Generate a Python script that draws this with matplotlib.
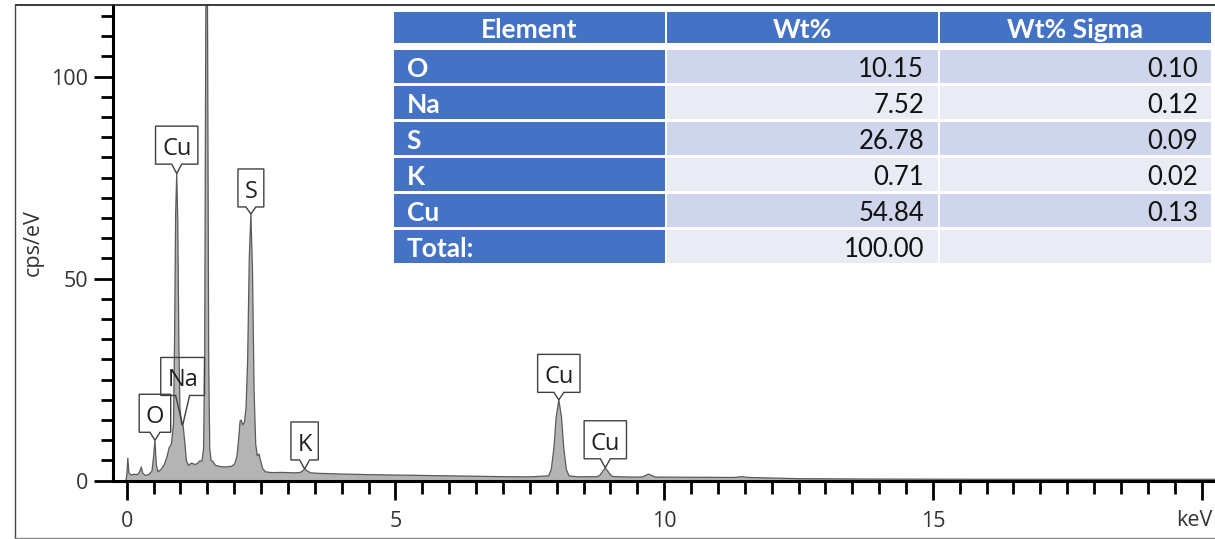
import matplotlib
matplotlib.use("Agg")
import matplotlib.pyplot as plt
from matplotlib.patches import Rectangle, Polygon
import numpy as np

# ---------------- data ----------------
# EDS spectrum, energy (keV) vs counts (cps/eV)
energy = [-0.02, 0.00, 0.02, 0.04, 0.08, 0.14, 0.20, 0.24, 0.27, 0.30, 0.35, 0.42,
          0.47, 0.50, 0.525, 0.55, 0.58, 0.64, 0.70, 0.75, 0.79, 0.83, 0.87, 0.89,
          0.91, 0.93, 0.95, 0.97, 0.99, 1.02, 1.05, 1.08, 1.11, 1.15, 1.21, 1.26,
          1.31, 1.36, 1.40, 1.43, 1.45, 1.47, 1.487, 1.505, 1.525, 1.545, 1.57, 1.60,
          1.65, 1.74, 1.85, 1.96, 2.01, 2.05, 2.08, 2.11, 2.13, 2.16, 2.19, 2.22,
          2.25, 2.28, 2.31, 2.34, 2.37, 2.40, 2.43, 2.46, 2.49, 2.53, 2.58, 2.70,
          2.90, 3.10, 3.22, 3.27, 3.31, 3.36, 3.42, 3.60, 4.00, 4.50, 5.00, 5.50,
          6.00, 6.50, 7.00, 7.50, 7.85, 7.90, 7.95, 7.99, 8.04, 8.09, 8.13, 8.18,
          8.23, 8.40, 8.75, 8.80, 8.85, 8.905, 8.96, 9.01, 9.06, 9.40, 9.58, 9.64,
          9.71, 9.78, 9.84, 10.5, 11.30, 11.44, 11.58, 12.5, 14.0, 16.0, 18.0, 20.25]
cps = [0.0, 1.0, 5.6, 2.0, 1.4, 1.6, 1.5, 2.2, 3.4, 1.8, 1.3, 1.6,
       2.4, 6.0, 10.0, 4.0, 2.2, 2.8, 4.0, 6.0, 8.2, 9.0, 14.0, 35.0,
       66.0, 76.0, 64.0, 34.0, 18.0, 14.0, 13.5, 9.5, 5.0, 3.8, 4.4, 4.0,
       4.2, 4.9, 4.8, 8.0, 30.0, 110.0, 160.0, 110.0, 30.0, 8.0, 5.0, 4.8,
       3.8, 3.5, 3.4, 3.6, 4.2, 6.0, 10.0, 14.8, 15.0, 13.8, 14.5, 18.0,
       30.0, 55.0, 66.0, 52.0, 22.0, 9.0, 6.2, 6.6, 5.0, 3.0, 2.2, 2.0,
       2.05, 1.95, 2.0, 2.4, 2.9, 2.4, 1.95, 1.8, 1.65, 1.5, 1.4, 1.3,
       1.2, 1.1, 1.0, 0.95, 1.2, 2.8, 8.3, 15.7, 20.0, 15.7, 8.3, 2.8,
       1.2, 0.95, 1.0, 1.3, 2.2, 3.2, 2.2, 1.3, 1.0, 0.9, 0.92, 1.2,
       1.65, 1.2, 0.9, 0.85, 0.8, 1.0, 0.8, 0.5, 0.4, 0.35, 0.35, 0.35]

# identified lines
peak_labels = ["O", "Cu", "Na", "S", "K", "Cu", "Cu"]
peak_energy = [0.525, 0.93, 1.04, 2.31, 3.31, 8.04, 8.905]

# quantification table
table_header = ["Element", "Wt%", "Wt% Sigma"]
elements = ["O", "Na", "S", "K", "Cu"]
wt_pct = [10.15, 7.52, 26.78, 0.71, 54.84]
wt_sigma = [0.10, 0.12, 0.09, 0.02, 0.13]

x_major = [0, 5, 10, 15, 20]
x_major_labels = ["0", "5", "10", "15", ""]
y_major = [0, 50, 100]

# ---------------- style ----------------
plt.rcParams["font.family"] = ["Open Sans", "DejaVu Sans"]
FILL = "#b4b4b4"
EDGE = "#5a5a5a"
TXT = "#333333"
BLUE = "#4472C4"
ROW_A = "#CFD5EA"
ROW_B = "#E9EBF5"
TABLE_FONT = ["Lato", "Open Sans", "DejaVu Sans"]

W, H = 1215, 539
fig = plt.figure(figsize=(W / 100, H / 100), dpi=100)
fig.patch.set_facecolor("white")

# spectrum axes
ax = fig.add_axes([113.3 / W, (H - 480.7) / H, (W - 113.3) / W, (480.7 - 5) / H])
ax.fill_between(energy, cps, 0, color=FILL, linewidth=0, zorder=2)
ax.plot(energy, cps, color=EDGE, lw=0.9, zorder=3)
ax.set_xlim(-0.25, 20.25)
ax.set_ylim(0, 117.7)
for s in ["top", "right"]:
    ax.spines[s].set_visible(False)
for s in ["left", "bottom"]:
    ax.spines[s].set_linewidth(2.2)
    ax.spines[s].set_color("black")
    ax.spines[s].set_zorder(4)

ax.set_xticks(x_major)
ax.set_xticklabels(x_major_labels)
ax.set_xticks(np.arange(0, 20.01, 0.5), minor=True)
ax.set_yticks(y_major)
ax.set_yticks(np.arange(0, 116, 5), minor=True)
ax.tick_params(which="major", length=14, width=2, direction="out",
               color="black", labelsize=15.5, labelcolor=TXT)
ax.tick_params(which="minor", length=9, width=2, direction="out", color="black")
ax.tick_params(axis="x", which="major", pad=8)
ax.tick_params(axis="y", which="major", pad=4)

fig.text(33.5 / W, (H - 242.5) / H, "cps/eV", rotation=90, ha="center",
         va="center", fontsize=15.5, color=TXT)
fig.text(1213 / W, (H - 520.5) / H, "keV", ha="right", va="center",
         fontsize=15.5, color=TXT)

# overlay in pixel coordinates (origin at top-left) for frame, markers, table
ov = fig.add_axes([0, 0, 1, 1])
ov.set_xlim(0, W)
ov.set_ylim(H, 0)
ov.axis("off")
ov.set_zorder(5)
ov.patch.set_visible(False)

# outer frame
ov.plot([15, W], [5, 5], color="#2b2b2b", lw=1.3, solid_capstyle="butt")
ov.plot([15, 15], [5, 538], color="#444444", lw=1.0)
ov.plot([15, W], [538, 538], color="#888888", lw=1.0)

# peak markers: box with a notch pointing down to the spectrum
renderer = fig.canvas.get_renderer()
v_height = [8, 9.4, 30, 7, 9, 7.5, 9]
v_half = [5, 5, 7, 5, 5, 5, 5]
box_h = 38
for lab, e, vh, hw in zip(peak_labels, peak_energy, v_height, v_half):
    tip_val = float(np.interp(e, energy, cps))
    px, py = ax.transData.transform((e, tip_val))
    ty = H - py
    bot = ty - vh
    top = bot - box_h
    t = ov.text(px, (top + bot) / 2 + 1, lab, ha="center", va="center_baseline",
                fontsize=17, color="#222222", zorder=7)
    tw = t.get_window_extent(renderer).width
    half = tw / 2 + 6.5
    poly = [(px - half, top), (px + half, top), (px + half, bot), (px + hw, bot),
            (px, ty), (px - hw, bot), (px - half, bot)]
    ov.add_patch(Polygon(poly, closed=True, facecolor="none",
                         edgecolor="#404040", lw=1.0, zorder=6))

# quantification table
col_x = [(394, 665), (667.3, 937.7), (940, 1210.7)]
head_y = (11.7, 42.7)
row_top0, row_pitch, row_h = 50, 36, 32.7

for (x0, x1), name in zip(col_x, table_header):
    ov.add_patch(Rectangle((x0, head_y[0]), x1 - x0, head_y[1] - head_y[0],
                           facecolor=BLUE, edgecolor="none", zorder=6))
    ov.text((x0 + x1) / 2, sum(head_y) / 2 + 1, name, ha="center",
            va="center_baseline", fontsize=19, fontweight="bold",
            color="white", family=TABLE_FONT, zorder=7)

rows = [(el, f"{w:.2f}", f"{s:.2f}") for el, w, s in zip(elements, wt_pct, wt_sigma)]
rows.append(("Total:", f"{sum(wt_pct):.2f}", ""))

for i, (el, w, s) in enumerate(rows):
    y0 = row_top0 + i * row_pitch
    yc = y0 + row_h / 2 + 1
    shade = ROW_A if i % 2 == 0 else ROW_B
    for j, (x0, x1) in enumerate(col_x):
        fc = BLUE if j == 0 else shade
        ov.add_patch(Rectangle((x0, y0), x1 - x0, row_h, facecolor=fc,
                               edgecolor="none", zorder=6))
    ov.text(406.7, yc, el, ha="left", va="center_baseline", fontsize=19,
            fontweight="bold", color="white", family=TABLE_FONT, zorder=7)
    ov.text(924, yc, w, ha="right", va="center_baseline", fontsize=18.5,
            color="#111111", family=TABLE_FONT, zorder=7)
    ov.text(1197.7, yc, s, ha="right", va="center_baseline", fontsize=18.5,
            color="#111111", family=TABLE_FONT, zorder=7)

fig.savefig("out.png", dpi=100)
